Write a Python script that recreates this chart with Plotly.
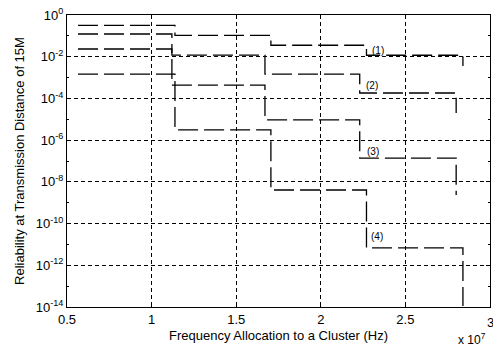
import plotly.graph_objects as go

# Step positions (Hz) for the two slightly offset groups of curves
freq_a = [0.565e7, 1.138e7, 1.705e7, 2.27e7, 2.84e7]
freq_b = [0.565e7, 1.120e7, 1.670e7, 2.23e7, 2.80e7]

# Reliability levels (log10)
rel_1 = [-0.50, -0.98, -1.45, -1.93, -2.45]
rel_2 = [-0.91, -1.92, -2.83, -3.74, -4.70]
rel_3 = [-1.63, -3.36, -5.03, -6.86, -8.63]
rel_4 = [-2.83, -5.51, -8.39, -11.17, -13.95]

series = [
    ("(1)", freq_a, rel_1),
    ("(2)", freq_b, rel_2),
    ("(3)", freq_b, rel_3),
    ("(4)", freq_a, rel_4),
]

x_ticks = [0.5e7, 1.0e7, 1.5e7, 2.0e7, 2.5e7, 3.0e7]
x_tick_text = ["0.5", "1", "1.5", "2", "2.5", "3"]
y_major = [0, -2, -4, -6, -8, -10, -12, -14]
y_minor = [-1, -3, -5, -7, -9, -11, -13]

label_pos = {"(1)": (2.34e7, -1.68), "(2)": (2.30e7, -3.40),
             "(3)": (2.31e7, -6.55), "(4)": (2.33e7, -10.63)}

fig = go.Figure()
for name, xs, ys in series:
    fig.add_trace(go.Scatter(
        x=xs, y=[10 ** v for v in ys], mode="lines", name=name,
        line=dict(color="black", width=1.3, shape="hv", dash="20px,6px"),
        showlegend=False, hoverinfo="skip"))

font = dict(family="Liberation Sans, Arial, sans-serif", size=13, color="black")

fig.update_layout(
    width=493, height=347,
    margin=dict(l=67, r=3, t=15, b=40),
    paper_bgcolor="white", plot_bgcolor="white",
    font=font,
    xaxis=dict(
        range=[0.5e7, 3.0e7], tickvals=x_ticks, ticktext=x_tick_text,
        showline=True, linecolor="black", linewidth=1, mirror="ticks",
        ticks="inside", ticklen=4, tickcolor="black",
        showgrid=True, gridcolor="black", gridwidth=1, griddash="4px,3px",
        zeroline=False,
        title=dict(text="Frequency Allocation to a Cluster (Hz)", standoff=5, font=font),
    ),
    yaxis=dict(
        type="log", range=[-14, 0],
        tickvals=[10 ** v for v in y_major],
        ticktext=["10<sup>%d</sup>" % v for v in y_major],
        showline=True, linecolor="black", linewidth=1, mirror="ticks",
        ticks="inside", ticklen=4, tickcolor="black",
        showgrid=True, gridcolor="black", gridwidth=1, griddash="4px,3px",
        zeroline=False,
        minor=dict(tickvals=[10 ** v for v in y_minor], ticks="inside",
                   ticklen=2, tickcolor="black", showgrid=False),
        title=dict(text="Reliability at Transmission Distance of 15M", standoff=8, font=font),
    ),
)

for name, (lx, ly) in label_pos.items():
    fig.add_annotation(x=lx, y=ly, text=name, showarrow=False,
                       font=dict(family="Liberation Sans, Arial, sans-serif", size=10, color="black"))

# last x tick label, cut by the page edge as in the reference
fig.add_annotation(xref="paper", yref="paper", x=1.0, y=-0.02, yanchor="top",
                   xanchor="center", text="3", showarrow=False, font=font)

fig.add_annotation(xref="paper", yref="paper", x=0.995, y=-0.108, xanchor="right",
                   yanchor="middle", text="x 10<sup>7</sup>", showarrow=False,
                   font=dict(family="Liberation Sans, Arial, sans-serif", size=12, color="black"))

fig.write_html("out.html")
